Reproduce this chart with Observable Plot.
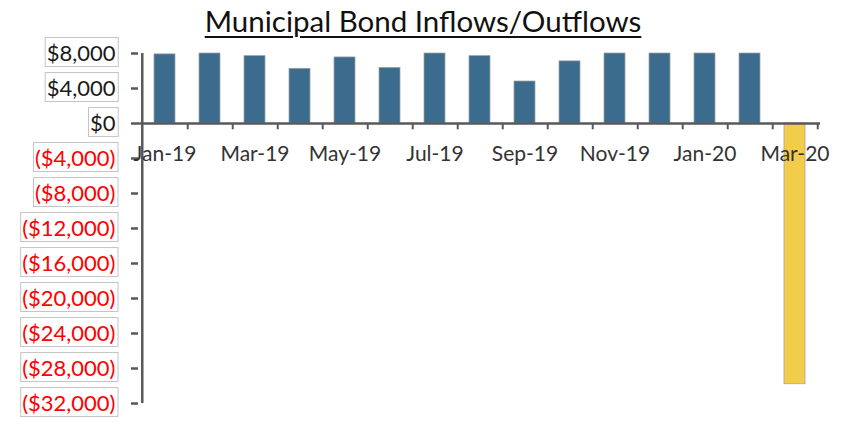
<!DOCTYPE html>
<html>
<head>
<meta charset="utf-8">
<script src="https://cdn.jsdelivr.net/npm/d3@7"></script>
<script src="https://cdn.jsdelivr.net/npm/@observablehq/plot@0.6"></script>
<style>
  html, body { margin: 0; padding: 0; background: white; }
  #wrap { position: relative; width: 846px; height: 425px; overflow: hidden; }
  #title {
    position: absolute; left: 0; top: 5px; width: 846px; text-align: center;
    font-family: Lato, sans-serif; font-size: 29.5px; color: #111;
    text-decoration: underline; text-decoration-thickness: 2px; text-underline-offset: 4px;
    z-index: 2; line-height: 1.1;
  }
</style>
</head>
<body>
<div id="wrap"><div id="title">Municipal Bond Inflows/Outflows</div></div>
<script>
const months = ["Jan-19","Feb-19","Mar-19","Apr-19","May-19","Jun-19","Jul-19","Aug-19","Sep-19","Oct-19","Nov-19","Dec-19","Jan-20","Feb-20","Mar-20"];
const flows = [7900, 8000, 7700, 6250, 7550, 6350, 8000, 7700, 4800, 7100, 8000, 8000, 8000, 8000, -29800];
const yTicks = [8000, 4000, 0, -4000, -8000, -12000, -16000, -20000, -24000, -28000, -32000];
const xLabels = months.filter((d, i) => i % 2 === 0);

const data = months.map((m, i) => ({month: m, value: flows[i]}));

const W = 846, H = 425, ML = 138, MR = 26, MT = 53, MB = 22;
const step = (W - ML - MR) / months.length;
const axisColor = "#595959";
const fmt = d3.format(",");
const yFormat = v => v < 0 ? `($${fmt(-v)})` : `$${fmt(v)}`;
const posTicks = yTicks.filter(v => v >= 0);
const negTicks = yTicks.filter(v => v < 0);

const chart = Plot.plot({
  width: W, height: H,
  marginLeft: ML, marginRight: MR, marginTop: MT, marginBottom: MB,
  style: {fontFamily: "Lato, sans-serif", background: "white", overflow: "visible"},
  x: {domain: months, paddingInner: 0.54, paddingOuter: 0.27, axis: null},
  y: {domain: [-32000, 8000], axis: null, label: null},
  marks: [
    Plot.barY(data, {x: "month", y: "value", fill: d => d.value < 0 ? "#F3CD4A" : "#3B6C8E", stroke: "#a0a0a0", strokeWidth: 0.75}),
    Plot.ruleY([0], {stroke: axisColor, strokeWidth: 2.5}),
    Plot.ruleX(months, {x: d => d, dx: step / 2, y1: 0, y2: -720, stroke: axisColor, strokeWidth: 2}),
    Plot.ruleX([months[0]], {x: d => d, dx: -step / 2, y1: -32000, y2: 8000, stroke: axisColor, strokeWidth: 2.5}),
    Plot.axisY(posTicks, {ticks: posTicks, label: null, tickSize: 7, tickPadding: 16, stroke: axisColor, strokeWidth: 2.5, tickFormat: yFormat, fill: "#1a1a1a", fontSize: 22, anchor: "left"}),
    Plot.axisY(negTicks, {ticks: negTicks, label: null, tickSize: 7, tickPadding: 16, stroke: axisColor, strokeWidth: 2.5, tickFormat: yFormat, fill: "#ff0000", fontSize: 22, anchor: "left"}),
    Plot.text(xLabels, {x: d => d, y: () => 0, dy: 31, text: d => d, fill: "#333", fontSize: 21})
  ]
});

document.getElementById("wrap").appendChild(chart);

// light gray boxes around y tick labels
chart.querySelectorAll('g[aria-label="y-axis tick label"] text').forEach(t => {
  const b = t.getBBox();
  const r = document.createElementNS("http://www.w3.org/2000/svg", "rect");
  const cy = b.y + b.height / 2;
  r.setAttribute("x", b.x - 1.5);
  r.setAttribute("y", cy - 14.5);
  r.setAttribute("width", b.width + 4);
  r.setAttribute("height", 29);
  r.setAttribute("fill", "white");
  r.setAttribute("stroke", "#c4c4c4");
  r.setAttribute("stroke-width", 1);
  if (t.getAttribute("transform")) r.setAttribute("transform", t.getAttribute("transform"));
  t.parentNode.insertBefore(r, t);
});
</script>
</body>
</html>
